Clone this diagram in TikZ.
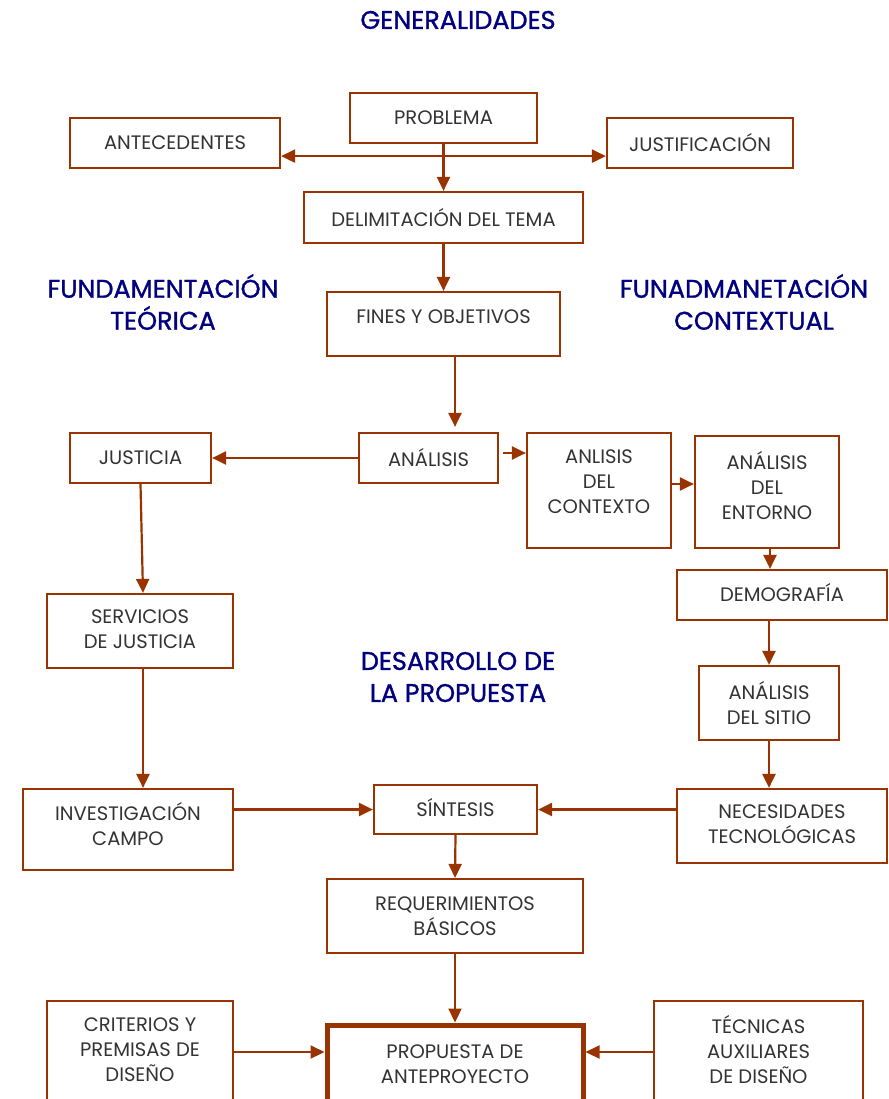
\documentclass[tikz,border=0pt]{standalone}
\usepackage{fontspec}
\setmainfont{Poppins}
\newfontfamily\ttlfont[FakeBold=1.2]{Poppins}
\usetikzlibrary{arrows.meta}
\definecolor{brn}{HTML}{993300}
\definecolor{navy}{HTML}{000080}
\definecolor{txt}{HTML}{333333}
\tikzset{
  box/.style={draw=brn, line width=2.2pt, fill=white, inner sep=0pt},
  lbl/.style={text=txt, font=\fontsize{19.5}{25}\selectfont, align=center},
  ttl/.style={text=navy, font=\ttlfont\fontsize{25.5}{32}\selectfont, align=center},
  arr/.style={draw=brn, line width=2.2pt, -{Triangle[length=14pt,width=13pt]}},
  ln/.style={draw=brn, line width=2.2pt}
}
\begin{document}
\begin{tikzpicture}[x=1pt,y=-1pt]
\clip (0,0) rectangle (888,1099);
\fill[white] (0,0) rectangle (888,1099);
% titles
\node[ttl] (t1) at (458,20) {GENERALIDADES};
\node[ttl] (t2) at (163,302) {FUNDAMENTACIÓN\\TEÓRICA};
\node[ttl] (t3) at (744,302) {FUNADMANETACIÓN\\\hspace*{20pt}CONTEXTUAL};
\node[ttl] (t4) at (458,677) {DESARROLLO DE\\LA PROPUESTA};
% boxes
\node[box, minimum width=187, minimum height=50, label={[lbl]center:PROBLEMA}] (prob) at (443.5,118) {};
\node[box, minimum width=210, minimum height=50, label={[lbl]center:ANTECEDENTES}] (ante) at (175,143) {};
\node[box, minimum width=186, minimum height=50, label={[lbl]center:JUSTIFICACIÓN}] (just) at (700,143) {};
\node[box, minimum width=279, minimum height=51, label={[lbl]center:DELIMITACIÓN DEL TEMA}] (delim) at (443.5,217.5) {};
\node[box, minimum width=233, minimum height=64, label={[lbl,yshift=7pt]center:FINES Y OBJETIVOS}] (fines) at (443.5,324) {};
\node[box, minimum width=139, minimum height=50, label={[lbl]center:ANÁLISIS}] (anal) at (428.5,458) {};
\node[box, minimum width=141, minimum height=50, label={[lbl]center:JUSTICIA}] (justi) at (140.5,458) {};
\node[box, minimum width=144, minimum height=115, label={[lbl,yshift=8.5pt]center:ANLISIS\\DEL\\CONTEXTO}] (ctx) at (599,490.5) {};
\node[box, minimum width=144, minimum height=112, label={[lbl,yshift=6pt]center:ANÁLISIS\\DEL\\ENTORNO}] (ent) at (767,492) {};
\node[box, minimum width=210, minimum height=50, label={[lbl,yshift=2pt]center:DEMOGRAFÍA}] (demo) at (782,595) {};
\node[box, minimum width=140, minimum height=74, label={[lbl]center:ANÁLISIS\\DEL SITIO}] (sitio) at (769,703) {};
\node[box, minimum width=210, minimum height=74, label={[lbl,yshift=1.5pt]center:NECESIDADES\\TECNOLÓGICAS}] (nec) at (782,826) {};
\node[box, minimum width=163, minimum height=49, label={[lbl,yshift=1.5pt]center:SÍNTESIS}] (sint) at (455.5,809.5) {};
\node[box, minimum width=210, minimum height=81, label={[lbl,yshift=5pt]center:INVESTIGACIÓN\\CAMPO}] (inv) at (128,829.5) {};
\node[box, minimum width=186, minimum height=74, label={[lbl,yshift=1.5pt]center:SERVICIOS\\DE JUSTICIA}] (serv) at (140,631) {};
\node[box, minimum width=256, minimum height=74, label={[lbl]center:REQUERIMIENTOS\\BÁSICOS}] (req) at (455,916) {};
\node[box, line width=5pt, minimum width=256, minimum height=90, label={[lbl,yshift=6pt]center:PROPUESTA DE\\ANTEPROYECTO}] (prop) at (455,1070) {};
\node[box, minimum width=186, minimum height=112, label={[lbl,yshift=7pt]center:CRITERIOS Y\\PREMISAS DE\\DISEÑO}] (crit) at (140,1057) {};
\node[box, minimum width=209, minimum height=112, label={[lbl,yshift=7pt]center:TÉCNICAS\\AUXILIARES\\DE DISEÑO}] (tec) at (758.5,1057) {};
% connectors
\draw[ln] (prob.south) -- ++(0,12) coordinate (split);
\draw[arr] (split) -- (split -| ante.east);
\draw[arr] (split) -- (split -| just.west);
\draw[arr] (split) -- (delim.north);
\draw[arr] (delim.south) -- (fines.north);
\draw[arr] ([xshift=11.5pt]fines.south) -- ([xshift=26.5pt,yshift=5pt]anal.north);
\draw[arr] (anal.west) -- (justi.east);
\draw[arr] ([xshift=4pt,yshift=5pt]anal.east) -- ([yshift=5pt]anal.east -| ctx.west);
\draw[arr] ([yshift=6.5pt]ctx.east) -- ([yshift=6.5pt]ctx.east -| ent.west);
\draw[arr] ([xshift=3pt]ent.south) -- ([xshift=3pt]ent.south |- demo.north);
\draw[arr] (demo.south -| sitio.north) -- (sitio.north);
\draw[arr] (sitio.south) -- (sitio.south |- nec.north);
\draw[arr] (nec.west |- sint.east) -- (sint.east);
\draw[arr] (inv.east |- sint.west) -- (sint.west);
\draw[arr] (justi.south) -- ([xshift=3pt]serv.north);
\draw[arr] ([xshift=3pt]serv.south) -- ([xshift=3pt]serv.south |- inv.north);
\draw[arr] (sint.south) -- (req.north);
\draw[arr] (req.south) -- (prop.north);
\draw[arr] ([yshift=5pt]crit.east) -- ([yshift=5pt]crit.east -| prop.west);
\draw[arr] ([yshift=5pt]tec.west) -- ([yshift=5pt]tec.west -| prop.east);
\end{tikzpicture}
\end{document}
